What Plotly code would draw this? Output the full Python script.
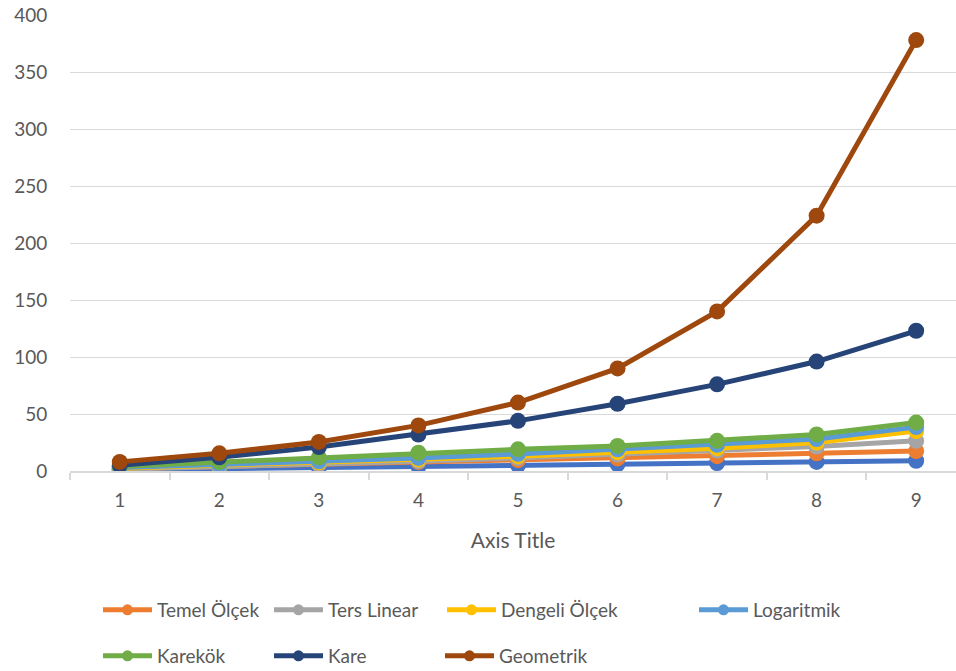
import plotly.graph_objects as go

# Category positions on the x axis
categories = [1, 2, 3, 4, 5, 6, 7, 8, 9]

# Series values
dogrusal = [1, 2, 3, 4, 5, 6, 7, 8, 9]
temel_olcek = [2, 4, 6, 8, 9.5, 11, 13, 15.5, 17.5]
ters_linear = [1.5, 3.5, 6, 8.5, 11.5, 14.5, 18, 21.5, 26.5]
dengeli_olcek = [2.5, 5, 7.5, 10, 13, 16.5, 20, 25, 35]
logaritmik = [3, 5.5, 8.5, 11.5, 15, 19, 23, 28, 38.5]
karekok = [4, 8, 12, 16, 19, 22, 26.5, 32, 42.5]
kare = [5, 12, 21, 32, 44, 59, 76, 96, 123]
geometrik = [8, 15.5, 25.5, 40, 60, 90, 140, 224, 378]

y_ticks = [0, 50, 100, 150, 200, 250, 300, 350, 400]

series = [
    ("Doğrusal", dogrusal, "#4472C4", None),
    ("Temel Ölçek", temel_olcek, "#ED7D31", "legend"),
    ("Ters Linear", ters_linear, "#A5A5A5", "legend"),
    ("Dengeli Ölçek", dengeli_olcek, "#FFC000", "legend2"),
    ("Logaritmik", logaritmik, "#5B9BD5", "legend3"),
    ("Karekök", karekok, "#70AD47", "legend4"),
    ("Kare", kare, "#264478", "legend4"),
    ("Geometrik", geometrik, "#9E480E", "legend4"),
]

W, H = 956, 671
FONT = "Lato"
TXT = "#595959"

fig = go.Figure()
for name, vals, color, leg in series:
    fig.add_trace(go.Scatter(
        x=categories, y=vals, name=name, mode="lines+markers",
        line=dict(color=color, width=5),
        marker=dict(color=color, size=16),
        showlegend=False,
    ))

# Legend keys with a smaller marker than the plotted points
for name, vals, color, leg in series:
    if leg is None:
        continue
    fig.add_trace(go.Scatter(
        x=[None], y=[None], name=name, mode="lines+markers",
        line=dict(color=color, width=5),
        marker=dict(color=color, size=11),
        showlegend=True, legend=leg, hoverinfo="skip",
    ))


def legend_at(px, py, grid=True):
    opts = dict(
        x=px / W, y=1 - py / H,
        orientation="h", xref="container", yref="container",
        xanchor="left", yanchor="middle",
        font=dict(family=FONT, size=19, color=TXT),
        itemwidth=49, bgcolor="rgba(0,0,0,0)",
        traceorder="normal", tracegroupgap=0,
    )
    if grid:
        opts.update(entrywidth=107, entrywidthmode="pixels")
    return opts


fig.update_layout(
    width=W, height=H,
    margin=dict(l=70, r=0, t=15, b=200),
    paper_bgcolor="white", plot_bgcolor="white",
    font=dict(family=FONT, color=TXT),
    legend=legend_at(98, 610),
    legend2=legend_at(442, 610, grid=False),
    legend3=legend_at(694, 610, grid=False),
    legend4=legend_at(98, 656),
    xaxis=dict(
        range=[0.5, 9.4], tickvals=categories, ticktext=[str(c) for c in categories],
        showgrid=False, showline=True, linecolor="#D9D9D9", linewidth=1.5,
        ticks="outside", ticklen=4, tickcolor="rgba(0,0,0,0)",
        ticklabelstandoff=7,
        tickfont=dict(family=FONT, size=19, color=TXT),
        minor=dict(tickvals=[c - 0.5 for c in categories] + [9.5], ticks="outside",
                   ticklen=7, tickcolor="#D9D9D9", tickwidth=1.5, showgrid=False),
        title=dict(text="Axis Title", font=dict(family=FONT, size=21, color=TXT), standoff=24),
        zeroline=False,
    ),
    yaxis=dict(
        range=[0, 400], tickvals=y_ticks,
        showgrid=True, gridcolor="#D9D9D9", gridwidth=1.2,
        showline=False, zeroline=False,
        ticks="outside", ticklen=18, tickcolor="rgba(0,0,0,0)",
        tickfont=dict(family=FONT, size=19, color=TXT),
    ),
)

fig.write_html("out.html")
